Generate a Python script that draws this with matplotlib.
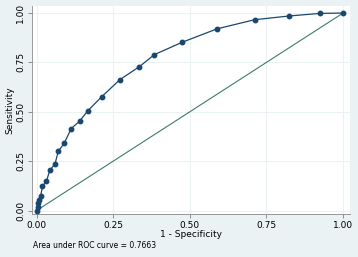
import matplotlib.pyplot as plt
import numpy as np

# ROC points
fpr = [0.0, 0.003, 0.005, 0.008, 0.013, 0.019, 0.032, 0.043, 0.060, 0.071,
       0.090, 0.113, 0.140, 0.167, 0.213, 0.272, 0.335, 0.384, 0.475,
       0.589, 0.711, 0.824, 0.924, 1.0]
tpr = [0.0, 0.020, 0.037, 0.055, 0.071, 0.122, 0.148, 0.203, 0.236, 0.301,
       0.340, 0.415, 0.452, 0.505, 0.577, 0.663, 0.728, 0.789, 0.852,
       0.920, 0.966, 0.985, 0.998, 1.0]
ticks = [0, 0.25, 0.5, 0.75, 1.0]
tick_labels = ["0.00", "0.25", "0.50", "0.75", "1.00"]
auc_text = "Area under ROC curve = 0.7663"

bg = "#eaf2f3"
navy = "#1a476f"
green = "#3e7b6a"

fig = plt.figure(figsize=(3.58, 2.57), dpi=100, facecolor=bg)
ax = fig.add_axes([0.0894, 0.1655, 0.8886, 0.8115])
ax.set_facecolor("white")

ax.plot(fpr, tpr, color=navy, lw=0.9, marker="o", ms=3.2, mfc=navy, mec=navy, zorder=3)
ax.plot([0, 1], [0, 1], color=green, lw=0.8, zorder=2)

ax.set_xlim(-0.015, 1.023)
ax.set_ylim(-0.02, 1.036)
ax.set_xticks(ticks)
ax.set_yticks(ticks)
ax.set_xticklabels(tick_labels, fontsize=6.5)
ax.set_yticklabels(tick_labels, fontsize=6.5, rotation=90, va="center")
ax.grid(True, color=bg, lw=0.8)
ax.set_axisbelow(True)
ax.tick_params(length=3, width=0.6, color="#7f7f7f", pad=2)

for side in ["top", "right"]:
    ax.spines[side].set_visible(False)
for side in ["left", "bottom"]:
    ax.spines[side].set_color("#8a8a8a")
    ax.spines[side].set_linewidth(0.6)

ax.set_xlabel("1 - Specificity", fontsize=6.5, labelpad=0)
ax.set_ylabel("Sensitivity", fontsize=6.5, labelpad=1)
fig.text(0.092, 0.035, auc_text, fontsize=5.5)

fig.savefig("out.png", dpi=100, facecolor=bg)
